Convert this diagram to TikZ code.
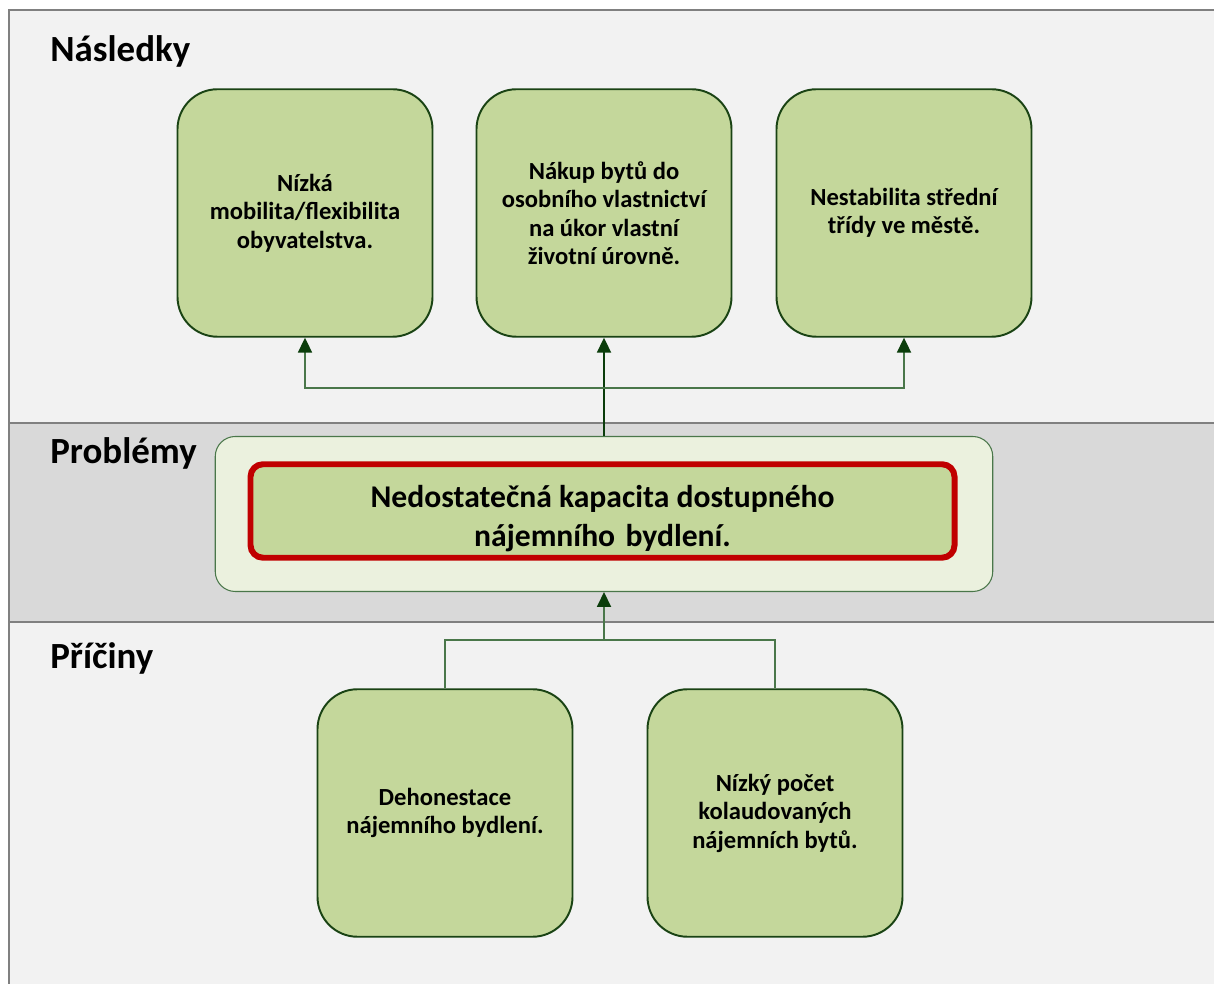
\documentclass[tikz,border=0pt]{standalone}
\usepackage{fontspec}
\setmainfont{Carlito}
\usetikzlibrary{arrows.meta}
\definecolor{pagegray}{HTML}{F2F2F2}
\definecolor{bandgray}{HTML}{D9D9D9}
\definecolor{framegray}{HTML}{808080}
\definecolor{boxgreen}{HTML}{C4D79B}
\definecolor{palegreen}{HTML}{EBF1DE}
\definecolor{edgegreen}{HTML}{1A4314}
\definecolor{linkgreen}{HTML}{4A774A}
\definecolor{tipgreen}{HTML}{0B3D0B}
\definecolor{alarmred}{HTML}{C00000}
\begin{document}
\begin{tikzpicture}[>={Triangle[width=8pt,length=8.5pt,color=tipgreen]},
  band/.style={anchor=base west, inner sep=0pt, font=\bfseries\fontsize{21}{24}\selectfont},
  item/.style={draw=edgegreen, fill=boxgreen, line width=1.1pt, rounded corners=0.8cm,
    minimum width=5.1cm, minimum height=4.95cm, align=center, inner sep=2pt,
    font=\bfseries\fontsize{14}{16.2}\selectfont},
  link/.style={draw=linkgreen, line width=0.9pt}]
\useasboundingbox (0,0) rectangle (24.28,19.66);
% page and band of problems
\draw[framegray, fill=pagegray, line width=1.2pt] (0.18,-1) rectangle (25,19.46);
\draw[framegray, fill=bandgray, line width=1.2pt] (0.18,7.22) rectangle (25,11.2);
\node[band] (hn) at (1.0,18.42) {Následky};
\node[band] (hp) at (1.0,10.38) {Problémy};
\node[band] (hc) at (1.0,6.28) {Příčiny};
% consequences
\node[item] (n1) at (6.1,15.4) {Nízká\\mobilita/flexibilita\\obyvatelstva.};
\node[item] (n2) at (12.08,15.4) {Nákup bytů do\\osobního vlastnictví\\na úkor vlastní\\životní úrovně.};
\node[item] (n3) at (18.08,15.4) {Nestabilita střední\\třídy ve městě.};
% problem
\node[draw=linkgreen, fill=palegreen, line width=0.6pt, rounded corners=0.4cm,
  minimum width=15.55cm, minimum height=3.1cm] (prob) at (12.08,9.38) {};
\node[draw=alarmred, fill=boxgreen, line width=3.4pt, rounded corners=0.25cm,
  minimum width=14.08cm, minimum height=1.76cm, align=center,
  font=\bfseries\fontsize{18}{21.5}\selectfont] (core) at (12.05,9.44)
  {\rule{0pt}{21pt}Nedostatečná kapacita dostupného\\[1pt]nájemního\hspace{0.1em} bydlení.};
% causes
\node[item] (c1) at (8.9,3.4) {Dehonestace\\nájemního bydlení.};
\node[item] (c2) at (15.5,3.4) {Nízký počet\\kolaudovaných\\nájemních bytů.};
% connectors
\coordinate (jt) at (12.08,11.9);
\coordinate (jb) at (12.08,6.86);
\draw[link, ->, tipgreen] (prob.north) -- (n2.south);
\draw[link, ->] (jt) -| (n1.south);
\draw[link, ->] (jt) -| (n3.south);
\draw[link] (c1.north) |- (jb) -| (c2.north);
\draw[link, ->] (jb) -- (prob.south);
\end{tikzpicture}
\end{document}
